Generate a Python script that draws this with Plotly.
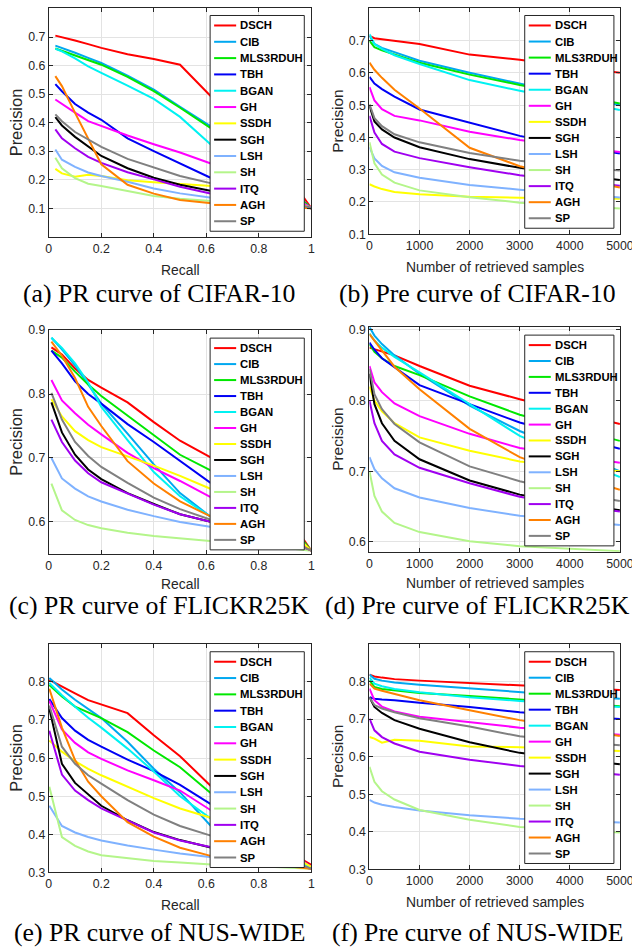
import plotly.graph_objects as go

# target picture is 632 x 948; the figure is laid out in target-picture pixels and
# converted to page pixels with the measured capture transform below
FW, FH = 652, 962
A_X, B_X = 0.972, 2.3
A_Y, B_Y = 0.9866, 5.5

METHODS = ["DSCH", "CIB", "MLS3RDUH", "TBH", "BGAN", "GH", "SSDH", "SGH", "LSH", "SH", "ITQ", "AGH", "SP"]
COLORS = ["#FF0000", "#00A8F0", "#00E800", "#0000F5", "#00F2F2", "#FF00FF", "#FFFF00",
          "#000000", "#7FB2FF", "#B4F58A", "#A000F0", "#FF8000", "#808080"]

# ---------------- x grids ----------------
R_CIFAR = [0.025, 0.05, 0.1, 0.15, 0.2, 0.3, 0.4, 0.5, 0.62, 0.7, 0.8, 0.9, 1.0]
R_FLICKR = [0.01, 0.05, 0.1, 0.15, 0.2, 0.3, 0.4, 0.5, 0.62, 0.7, 0.8, 0.9, 1.0]
R_NUS = [0.002, 0.05, 0.1, 0.15, 0.2, 0.3, 0.4, 0.5, 0.62, 0.7, 0.8, 0.9, 1.0]
N_RET = [1, 100, 250, 500, 1000, 2000, 3000, 4000, 5000]

# ---------------- (a) PR CIFAR-10 ----------------
PR_CIFAR = [
    [0.705, 0.700, 0.688, 0.675, 0.662, 0.640, 0.623, 0.603, 0.490, 0.420, 0.330, 0.230, 0.100],
    [0.670, 0.662, 0.645, 0.627, 0.609, 0.565, 0.516, 0.455, 0.385, 0.330, 0.260, 0.180, 0.100],
    [0.660, 0.652, 0.636, 0.620, 0.603, 0.560, 0.510, 0.452, 0.380, 0.330, 0.260, 0.180, 0.100],
    [0.535, 0.510, 0.465, 0.435, 0.410, 0.345, 0.300, 0.257, 0.205, 0.180, 0.155, 0.130, 0.100],
    [0.659, 0.650, 0.625, 0.597, 0.574, 0.530, 0.483, 0.420, 0.321, 0.270, 0.210, 0.155, 0.100],
    [0.481, 0.465, 0.435, 0.405, 0.388, 0.355, 0.324, 0.295, 0.256, 0.230, 0.195, 0.155, 0.100],
    [0.238, 0.222, 0.210, 0.217, 0.213, 0.198, 0.191, 0.185, 0.178, 0.170, 0.155, 0.135, 0.100],
    [0.419, 0.390, 0.350, 0.315, 0.283, 0.240, 0.207, 0.182, 0.160, 0.148, 0.135, 0.120, 0.100],
    [0.306, 0.270, 0.245, 0.225, 0.213, 0.193, 0.169, 0.152, 0.137, 0.130, 0.122, 0.112, 0.100],
    [0.277, 0.240, 0.205, 0.186, 0.178, 0.160, 0.143, 0.133, 0.126, 0.120, 0.113, 0.107, 0.100],
    [0.376, 0.345, 0.310, 0.280, 0.259, 0.226, 0.201, 0.175, 0.151, 0.140, 0.128, 0.115, 0.100],
    [0.563, 0.528, 0.434, 0.343, 0.254, 0.182, 0.151, 0.129, 0.117, 0.112, 0.108, 0.104, 0.100],
    [0.429, 0.405, 0.367, 0.340, 0.315, 0.273, 0.242, 0.213, 0.187, 0.170, 0.150, 0.128, 0.100],
]

# ---------------- (b) Pre CIFAR-10 ----------------
PRE_CIFAR = [
    [0.715, 0.708, 0.705, 0.700, 0.690, 0.657, 0.641, 0.620, 0.601],
    [0.715, 0.690, 0.678, 0.664, 0.638, 0.601, 0.568, 0.535, 0.500],
    [0.700, 0.680, 0.670, 0.657, 0.632, 0.595, 0.563, 0.535, 0.505],
    [0.588, 0.567, 0.550, 0.527, 0.487, 0.445, 0.405, 0.375, 0.350],
    [0.720, 0.690, 0.675, 0.655, 0.628, 0.578, 0.545, 0.515, 0.485],
    [0.556, 0.515, 0.488, 0.467, 0.453, 0.418, 0.392, 0.372, 0.355],
    [0.255, 0.248, 0.240, 0.231, 0.224, 0.216, 0.213, 0.211, 0.210],
    [0.498, 0.450, 0.425, 0.400, 0.370, 0.333, 0.306, 0.285, 0.268],
    [0.370, 0.335, 0.312, 0.292, 0.275, 0.253, 0.238, 0.225, 0.214],
    [0.385, 0.320, 0.285, 0.260, 0.236, 0.215, 0.198, 0.188, 0.180],
    [0.467, 0.415, 0.380, 0.356, 0.336, 0.308, 0.283, 0.265, 0.250],
    [0.632, 0.610, 0.585, 0.548, 0.490, 0.368, 0.311, 0.275, 0.245],
    [0.503, 0.460, 0.435, 0.410, 0.385, 0.352, 0.328, 0.310, 0.298],
]

# ---------------- (c) PR FLICKR25K ----------------
PR_FLICKR = [
    [0.873, 0.862, 0.840, 0.822, 0.810, 0.787, 0.756, 0.727, 0.700, 0.680, 0.650, 0.615, 0.555],
    [0.888, 0.870, 0.845, 0.815, 0.785, 0.738, 0.690, 0.645, 0.607, 0.595, 0.585, 0.572, 0.555],
    [0.868, 0.857, 0.835, 0.815, 0.797, 0.766, 0.735, 0.705, 0.680, 0.660, 0.635, 0.605, 0.555],
    [0.868, 0.848, 0.820, 0.800, 0.785, 0.753, 0.725, 0.695, 0.660, 0.645, 0.620, 0.595, 0.555],
    [0.888, 0.872, 0.848, 0.818, 0.780, 0.728, 0.678, 0.640, 0.607, 0.597, 0.585, 0.572, 0.555],
    [0.822, 0.790, 0.770, 0.752, 0.737, 0.708, 0.684, 0.664, 0.638, 0.625, 0.608, 0.587, 0.555],
    [0.792, 0.765, 0.742, 0.728, 0.717, 0.703, 0.688, 0.672, 0.651, 0.640, 0.620, 0.595, 0.555],
    [0.787, 0.740, 0.705, 0.682, 0.667, 0.645, 0.628, 0.612, 0.600, 0.595, 0.585, 0.572, 0.555],
    [0.700, 0.668, 0.652, 0.640, 0.632, 0.619, 0.609, 0.600, 0.592, 0.588, 0.580, 0.570, 0.555],
    [0.660, 0.618, 0.603, 0.595, 0.590, 0.583, 0.578, 0.574, 0.570, 0.567, 0.564, 0.560, 0.555],
    [0.760, 0.725, 0.696, 0.676, 0.662, 0.644, 0.627, 0.612, 0.600, 0.595, 0.585, 0.572, 0.555],
    [0.882, 0.860, 0.825, 0.780, 0.750, 0.695, 0.660, 0.632, 0.608, 0.600, 0.588, 0.575, 0.555],
    [0.802, 0.760, 0.725, 0.703, 0.686, 0.661, 0.638, 0.620, 0.603, 0.597, 0.587, 0.574, 0.555],
]

# ---------------- (d) Pre FLICKR25K ----------------
PRE_FLICKR = [
    [0.875, 0.873, 0.870, 0.864, 0.849, 0.821, 0.802, 0.785, 0.767],
    [0.904, 0.892, 0.880, 0.864, 0.838, 0.793, 0.757, 0.728, 0.700],
    [0.880, 0.869, 0.860, 0.849, 0.836, 0.806, 0.780, 0.762, 0.743],
    [0.882, 0.872, 0.860, 0.847, 0.822, 0.795, 0.769, 0.750, 0.732],
    [0.895, 0.885, 0.875, 0.862, 0.840, 0.795, 0.750, 0.720, 0.692],
    [0.849, 0.826, 0.812, 0.796, 0.778, 0.753, 0.733, 0.722, 0.712],
    [0.820, 0.800, 0.785, 0.768, 0.748, 0.729, 0.714, 0.707, 0.700],
    [0.838, 0.795, 0.768, 0.743, 0.717, 0.687, 0.667, 0.655, 0.645],
    [0.720, 0.703, 0.690, 0.676, 0.663, 0.648, 0.637, 0.630, 0.624],
    [0.700, 0.665, 0.643, 0.627, 0.614, 0.601, 0.594, 0.590, 0.587],
    [0.800, 0.768, 0.743, 0.724, 0.705, 0.683, 0.664, 0.652, 0.643],
    [0.894, 0.885, 0.870, 0.848, 0.816, 0.760, 0.720, 0.695, 0.674],
    [0.845, 0.809, 0.788, 0.767, 0.741, 0.707, 0.686, 0.670, 0.658],
]

# ---------------- (e) PR NUS-WIDE ----------------
PR_NUS = [
    [0.805, 0.787, 0.770, 0.752, 0.740, 0.718, 0.660, 0.605, 0.525, 0.480, 0.420, 0.360, 0.320],
    [0.810, 0.780, 0.753, 0.730, 0.705, 0.643, 0.572, 0.510, 0.420, 0.385, 0.355, 0.330, 0.315],
    [0.792, 0.762, 0.735, 0.720, 0.705, 0.668, 0.620, 0.576, 0.505, 0.460, 0.410, 0.355, 0.315],
    [0.755, 0.705, 0.672, 0.648, 0.630, 0.596, 0.566, 0.530, 0.478, 0.450, 0.410, 0.360, 0.315],
    [0.797, 0.765, 0.735, 0.706, 0.680, 0.625, 0.565, 0.500, 0.440, 0.410, 0.370, 0.335, 0.315],
    [0.750, 0.675, 0.640, 0.615, 0.598, 0.568, 0.542, 0.515, 0.462, 0.440, 0.405, 0.360, 0.315],
    [0.646, 0.617, 0.592, 0.572, 0.555, 0.525, 0.495, 0.468, 0.443, 0.430, 0.400, 0.355, 0.315],
    [0.730, 0.585, 0.535, 0.505, 0.475, 0.437, 0.406, 0.385, 0.365, 0.355, 0.340, 0.325, 0.310],
    [0.475, 0.422, 0.405, 0.393, 0.384, 0.371, 0.360, 0.350, 0.340, 0.335, 0.328, 0.320, 0.310],
    [0.525, 0.393, 0.370, 0.355, 0.345, 0.337, 0.330, 0.326, 0.321, 0.320, 0.317, 0.314, 0.310],
    [0.672, 0.557, 0.515, 0.490, 0.468, 0.437, 0.405, 0.384, 0.366, 0.356, 0.340, 0.325, 0.310],
    [0.782, 0.680, 0.595, 0.538, 0.500, 0.432, 0.394, 0.365, 0.343, 0.335, 0.325, 0.317, 0.310],
    [0.738, 0.630, 0.585, 0.555, 0.533, 0.490, 0.452, 0.422, 0.396, 0.380, 0.360, 0.335, 0.310],
]

# ---------------- (f) Pre NUS-WIDE ----------------
PRE_NUS = [
    [0.818, 0.813, 0.810, 0.806, 0.802, 0.795, 0.789, 0.783, 0.777],
    [0.818, 0.807, 0.802, 0.797, 0.791, 0.781, 0.771, 0.762, 0.754],
    [0.803, 0.785, 0.780, 0.776, 0.769, 0.761, 0.752, 0.743, 0.734],
    [0.758, 0.754, 0.752, 0.750, 0.743, 0.732, 0.718, 0.708, 0.700],
    [0.810, 0.794, 0.787, 0.780, 0.771, 0.758, 0.748, 0.740, 0.732],
    [0.781, 0.750, 0.733, 0.720, 0.706, 0.691, 0.677, 0.667, 0.658],
    [0.652, 0.648, 0.637, 0.645, 0.642, 0.627, 0.625, 0.620, 0.615],
    [0.758, 0.732, 0.716, 0.697, 0.674, 0.638, 0.610, 0.593, 0.580],
    [0.485, 0.478, 0.472, 0.466, 0.457, 0.444, 0.435, 0.430, 0.425],
    [0.573, 0.533, 0.508, 0.486, 0.458, 0.432, 0.413, 0.405, 0.398],
    [0.701, 0.670, 0.652, 0.635, 0.613, 0.592, 0.575, 0.563, 0.552],
    [0.794, 0.781, 0.775, 0.767, 0.750, 0.723, 0.697, 0.675, 0.655],
    [0.757, 0.737, 0.728, 0.718, 0.702, 0.680, 0.654, 0.640, 0.630],
]

CAPTIONS = ["(a) PR curve of CIFAR-10", "(b) Pre curve of CIFAR-10",
            "(c) PR curve of FLICKR25K", "(d) Pre curve of FLICKR25K",
            "(e) PR curve of NUS-WIDE", "(f) Pre curve of NUS-WIDE"]

PR_TICKS = [0, 0.2, 0.4, 0.6, 0.8, 1]
PR_TICKTEXT = ["0", "0.2", "0.4", "0.6", "0.8", "1"]
PRE_TICKS = [0, 1000, 2000, 3000, 4000, 5000]

# panel layout in target pixels: (x0, x1, y0top, y1bottom)
PANELS = [
    dict(x=R_CIFAR, ys=PR_CIFAR, box=(48, 310, 7, 235.5), xr=[0, 1], yr=[0.0, 0.8],
         yt=[0.1, 0.2, 0.3, 0.4, 0.5, 0.6, 0.7], pr=True, leg=(209, 303, 14, 230), xt=268.5),
    dict(x=N_RET, ys=PRE_CIFAR, box=(368, 618, 7, 233), xr=[0, 5000], yr=[0.1, 0.8],
         yt=[0.1, 0.2, 0.3, 0.4, 0.5, 0.6, 0.7], pr=False, leg=(523, 612, 14, 227), xt=266),
    dict(x=R_FLICKR, ys=PR_FLICKR, box=(48, 310, 329, 553), xr=[0, 1], yr=[0.55, 0.9],
         yt=[0.6, 0.7, 0.8, 0.9], pr=True, leg=(209, 303, 337, 549), xt=583.5),
    dict(x=N_RET, ys=PRE_FLICKR, box=(368, 618, 326, 551), xr=[0, 5000], yr=[0.586, 0.904],
         yt=[0.6, 0.7, 0.8, 0.9], pr=False, leg=(523, 612, 334, 545), xt=582),
    dict(x=R_NUS, ys=PR_NUS, box=(48, 310, 643, 872), xr=[0, 1], yr=[0.3, 0.9],
         yt=[0.3, 0.4, 0.5, 0.6, 0.7, 0.8], pr=True, leg=(209, 303, 651, 867), xt=905),
    dict(x=N_RET, ys=PRE_NUS, box=(368, 618, 643, 869), xr=[0, 5000], yr=[0.3, 0.9],
         yt=[0.3, 0.4, 0.5, 0.6, 0.7, 0.8], pr=False, leg=(523, 612, 651, 863), xt=902),
]
CAPTION_Y = [292, 292, 605, 605, 932, 932]


def px(x):
    return ((x - B_X) / A_X) / FW


def py(y):
    return min(1.0, 1 - ((y - B_Y) / A_Y) / FH)


def fs(s):
    return s / A_X


AX = "#262626"
GRID = "#E3E3E3"
SANS = "Liberation Sans, Arial, sans-serif"
SERIF = "Liberation Serif, Times New Roman, serif"

fig = go.Figure()
layout = dict(width=FW, height=FH, margin=dict(l=0, r=0, t=0, b=0),
              paper_bgcolor="white", plot_bgcolor="white", showlegend=False)
shapes = []
annotations = []

for i, p in enumerate(PANELS):
    k = "" if i == 0 else str(i + 1)
    x0, x1, y0, y1 = p["box"]
    for m, (name, col) in enumerate(zip(METHODS, COLORS)):
        fig.add_trace(go.Scatter(x=p["x"], y=p["ys"][m], mode="lines", name=name,
                                 line=dict(color=col, width=2), xaxis="x" + k, yaxis="y" + k,
                                 hoverinfo="skip"))
    common = dict(showline=True, mirror="ticks", linecolor=AX, linewidth=1, ticks="inside",
                  ticklen=4, tickcolor=AX, showgrid=True, gridcolor=GRID, gridwidth=1,
                  zeroline=False, tickfont=dict(family=SANS, size=fs(12), color=AX))
    xa = dict(common, domain=[px(x0), px(x1)], range=p["xr"], anchor="y" + k,
              tickvals=PR_TICKS if p["pr"] else PRE_TICKS,
              ticktext=PR_TICKTEXT if p["pr"] else [str(v) for v in PRE_TICKS])
    ya = dict(common, domain=[py(y1), py(y0)], range=p["yr"], anchor="x" + k,
              tickvals=p["yt"], ticktext=["%.1f" % v for v in p["yt"]])
    layout["xaxis" + k] = xa
    layout["yaxis" + k] = ya

    # axis titles
    cx = (x0 + x1) / 2
    annotations.append(dict(text="Recall" if p["pr"] else "Number of retrieved samples",
                            x=px(cx), y=py(p["xt"]), xref="paper", yref="paper",
                            showarrow=False, xanchor="center", yanchor="middle",
                            font=dict(family=SANS, size=fs(13.5), color=AX)))
    annotations.append(dict(text="Precision", x=px(15 if p["pr"] else 336), y=py((y0 + y1) / 2),
                            xref="paper", yref="paper", showarrow=False, textangle=-90,
                            xanchor="center", yanchor="middle",
                            font=dict(family=SANS, size=fs(16 if p["pr"] else 15), color=AX)))
    # caption
    annotations.append(dict(text=CAPTIONS[i], x=px(158 if p["pr"] else 476), y=py(CAPTION_Y[i]),
                            xref="paper", yref="paper", showarrow=False,
                            xanchor="center", yanchor="middle",
                            font=dict(family=SERIF, size=fs(25), color="black")))

    # legend box
    lx0, lx1, ly0, ly1 = p["leg"]
    shapes.append(dict(type="rect", xref="paper", yref="paper", x0=px(lx0), x1=px(lx1),
                       y0=py(ly1), y1=py(ly0), fillcolor="white",
                       line=dict(color=AX, width=1), layer="above"))
    step = (ly1 - ly0 - 20) / (len(METHODS) - 1)
    for m, (name, col) in enumerate(zip(METHODS, COLORS)):
        yy = ly0 + 10 + m * step
        shapes.append(dict(type="line", xref="paper", yref="paper", x0=px(lx0 + 4), x1=px(lx0 + 26),
                           y0=py(yy), y1=py(yy), line=dict(color=col, width=2), layer="above"))
        annotations.append(dict(text="<b>%s</b>" % name, x=px(lx0 + 28), y=py(yy),
                                xref="paper", yref="paper", showarrow=False,
                                xanchor="left", yanchor="middle",
                                font=dict(family=SANS, size=fs(11), color="black")))

layout["shapes"] = shapes
layout["annotations"] = annotations
fig.update_layout(**layout)
fig.write_html("out.html",
               config={"displayModeBar": False, "staticPlot": True},
               post_script="document.documentElement.style.margin='0';"
                           "document.body.style.margin='0';"
                           "document.body.style.overflow='hidden';")
